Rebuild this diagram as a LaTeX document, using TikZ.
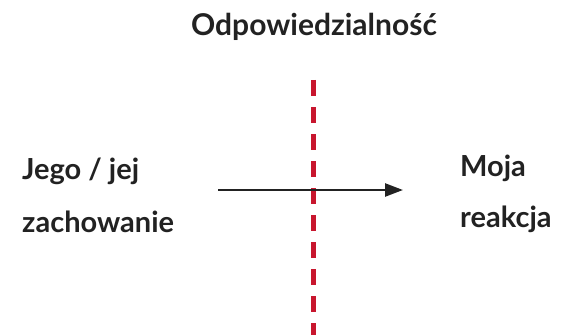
\documentclass[tikz,border=0pt]{standalone}
\usepackage{fontspec}
\setmainfont{Lato}[UprightFont=* Bold]
\usetikzlibrary{arrows.meta}
\definecolor{txt}{RGB}{34,34,34}
\definecolor{dashred}{RGB}{200,22,46}
\tikzset{
  lbl/.style={inner sep=0pt, anchor=base west, text=txt, font=\fontsize{29}{34}\selectfont},
  ttl/.style={inner sep=0pt, anchor=base, text=txt, font=\fontsize{30}{34}\selectfont},
  divider/.style={draw=dashred, line width=5pt, dash pattern=on 16pt off 11pt},
  flow/.style={draw=txt, line width=2.5pt, -{Triangle[length=18pt,width=13pt]}}
}
\begin{document}
\begin{tikzpicture}[x=1pt,y=-1pt]
\useasboundingbox (0,0) rectangle (561,334);
\node[ttl] (title) at (314,36) {Odpowiedzialność};
\node[lbl] (l1) at (22,179) {Jego / jej};
\node[lbl] (l2) at (22,232) {zachowanie};
\node[lbl] (r1) at (460,176) {Moja};
\node[lbl] (r2) at (460,227) {reakcja};
\coordinate (dtop) at (313,80);
\coordinate (dbot) at (313,340);
\coordinate (astart) at (218,190);
\coordinate (aend) at (403,190);
\draw[divider] (dtop) -- (dbot);
\draw[flow] (astart) -- (aend);
\end{tikzpicture}
\end{document}
